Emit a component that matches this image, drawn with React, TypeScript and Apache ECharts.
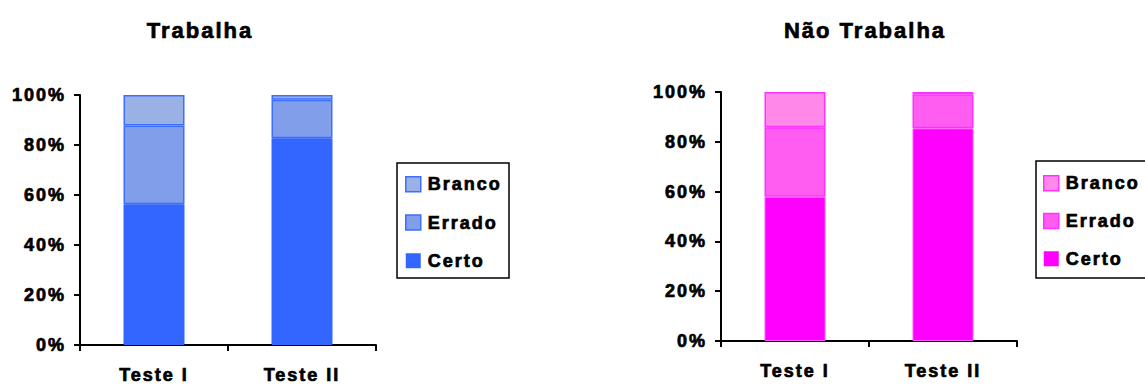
import React, { useEffect, useRef } from "react";
import * as echarts from "echarts";

// Categories and stacked percentages per group
const categories = ["Teste I", "Teste II"];
const seriesNames = ["Certo", "Errado", "Branco"];

const trabalhaCerto = [56.3, 82.7];
const trabalhaErrado = [31.5, 15.4];
const trabalhaBranco = [12.2, 1.9];

const naoTrabalhaCerto = [57.9, 85.4];
const naoTrabalhaErrado = [27.9, 13.7];
const naoTrabalhaBranco = [14.2, 0.9];

const yTicks = [0, 20, 40, 60, 80, 100];

const FONT = "'Liberation Sans', Arial, sans-serif";

const blueFill = ["#3366FF", "#809EEA", "#9AB1E6"];
const blueBorder = ["#3366FF", "#3D6EFF", "#3D6EFF"];
const pinkFill = ["#FF00FF", "#FF5CF2", "#FF88E8"];
const pinkBorder = ["#FF55FF", "#FF33FF", "#FF33FF"];

// Heavy black text: bold face plus a thin outline of the same colour
const heavy = { color: "#000", fontWeight: "bold" as const, fontFamily: FONT, textBorderColor: "#000", textBorderWidth: 0.7 };

export default function App() {
  const ref = useRef<HTMLDivElement>(null);

  useEffect(() => {
    if (!ref.current) return;
    const chart = echarts.init(ref.current, undefined, { renderer: "svg" });

    const axisLine = { show: true, lineStyle: { color: "#000", width: 2 } };
    const axisTick = { show: true, length: 6, lineStyle: { color: "#000", width: 2 } };
    const labelStyle = { ...heavy, fontSize: 18 };

    const makeX = (gridIndex: number) => ({
      type: "category" as const,
      gridIndex,
      data: categories,
      axisLine,
      axisTick: { ...axisTick, alignWithLabel: false },
      axisLabel: { ...labelStyle, margin: 21 },
      splitLine: { show: false },
    });
    const makeY = (gridIndex: number) => ({
      type: "value" as const,
      gridIndex,
      min: 0,
      max: yTicks[yTicks.length - 1],
      interval: yTicks[1] - yTicks[0],
      axisLine,
      axisTick,
      axisLabel: { ...labelStyle, margin: 14, formatter: "{value}%" },
      splitLine: { show: false },
    });

    const groups = [
      { data: [trabalhaCerto, trabalhaErrado, trabalhaBranco], fill: blueFill, border: blueBorder, stack: "t" },
      { data: [naoTrabalhaCerto, naoTrabalhaErrado, naoTrabalhaBranco], fill: pinkFill, border: pinkBorder, stack: "n" },
    ];

    const series: any[] = [];
    groups.forEach((g, gi) => {
      seriesNames.forEach((name, si) => {
        series.push({
          type: "bar",
          name,
          id: `${g.stack}-${name}`,
          xAxisIndex: gi,
          yAxisIndex: gi,
          stack: g.stack,
          barWidth: 61,
          data: g.data[si],
          itemStyle: {
            color: g.fill[si],
            borderColor: g.border[si],
            borderWidth: si === 0 ? 1 : 1.5,
          },
        });
      });
    });

    const legendText = { ...heavy, fontSize: 18, padding: [0, 0, 0, 2] };

    // Legend entries listed top-down (reverse of stacking order), coloured per group
    const legendData = (fill: string[], border: string[]) =>
      [2, 1, 0].map((i) => ({
        name: seriesNames[i],
        icon: "rect",
        itemStyle: { color: fill[i], borderColor: border[i], borderWidth: i === 0 ? 0 : 1.5 },
      }));

    const titleStyle = { ...heavy, fontSize: 22 };

    chart.setOption({
      animation: false,
      backgroundColor: "#fff",
      title: [
        { text: "Trabalha", left: 200, top: 19, padding: 0, textAlign: "center", textStyle: titleStyle },
        { text: "Não Trabalha", left: 865, top: 19, padding: 0, textAlign: "center", textStyle: titleStyle },
      ],
      grid: [
        { left: 80, top: 95, width: 296, height: 250 },
        { left: 721, top: 92, width: 296, height: 249 },
      ],
      xAxis: [makeX(0), makeX(1)],
      yAxis: [makeY(0), makeY(1)],
      legend: [
        {
          orient: "vertical",
          left: 405,
          top: 175,
          padding: 0,
          itemWidth: 15,
          itemHeight: 15,
          itemGap: 19.5,
          selectedMode: false,
          data: legendData(blueFill, blueBorder),
          textStyle: legendText,
        },
        {
          orient: "vertical",
          left: 1043,
          top: 174,
          padding: 0,
          itemWidth: 15,
          itemHeight: 15,
          itemGap: 19,
          selectedMode: false,
          data: legendData(pinkFill, pinkBorder),
          textStyle: legendText,
        },
      ],
      graphic: [
        {
          type: "rect",
          shape: { x: 397, y: 163, width: 112, height: 115 },
          style: { fill: "none", stroke: "#000", lineWidth: 1.5 },
        },
        {
          type: "rect",
          shape: { x: 1036, y: 161, width: 115, height: 117 },
          style: { fill: "none", stroke: "#000", lineWidth: 1.5 },
        },
      ],
      series,
    });

    return () => chart.dispose();
  }, []);

  return (
    <div
      ref={ref}
      style={{
        position: "fixed",
        left: 0,
        top: 0,
        width: 1145,
        height: 385,
        letterSpacing: "2px",
        background: "#fff",
      }}
    />
  );
}
